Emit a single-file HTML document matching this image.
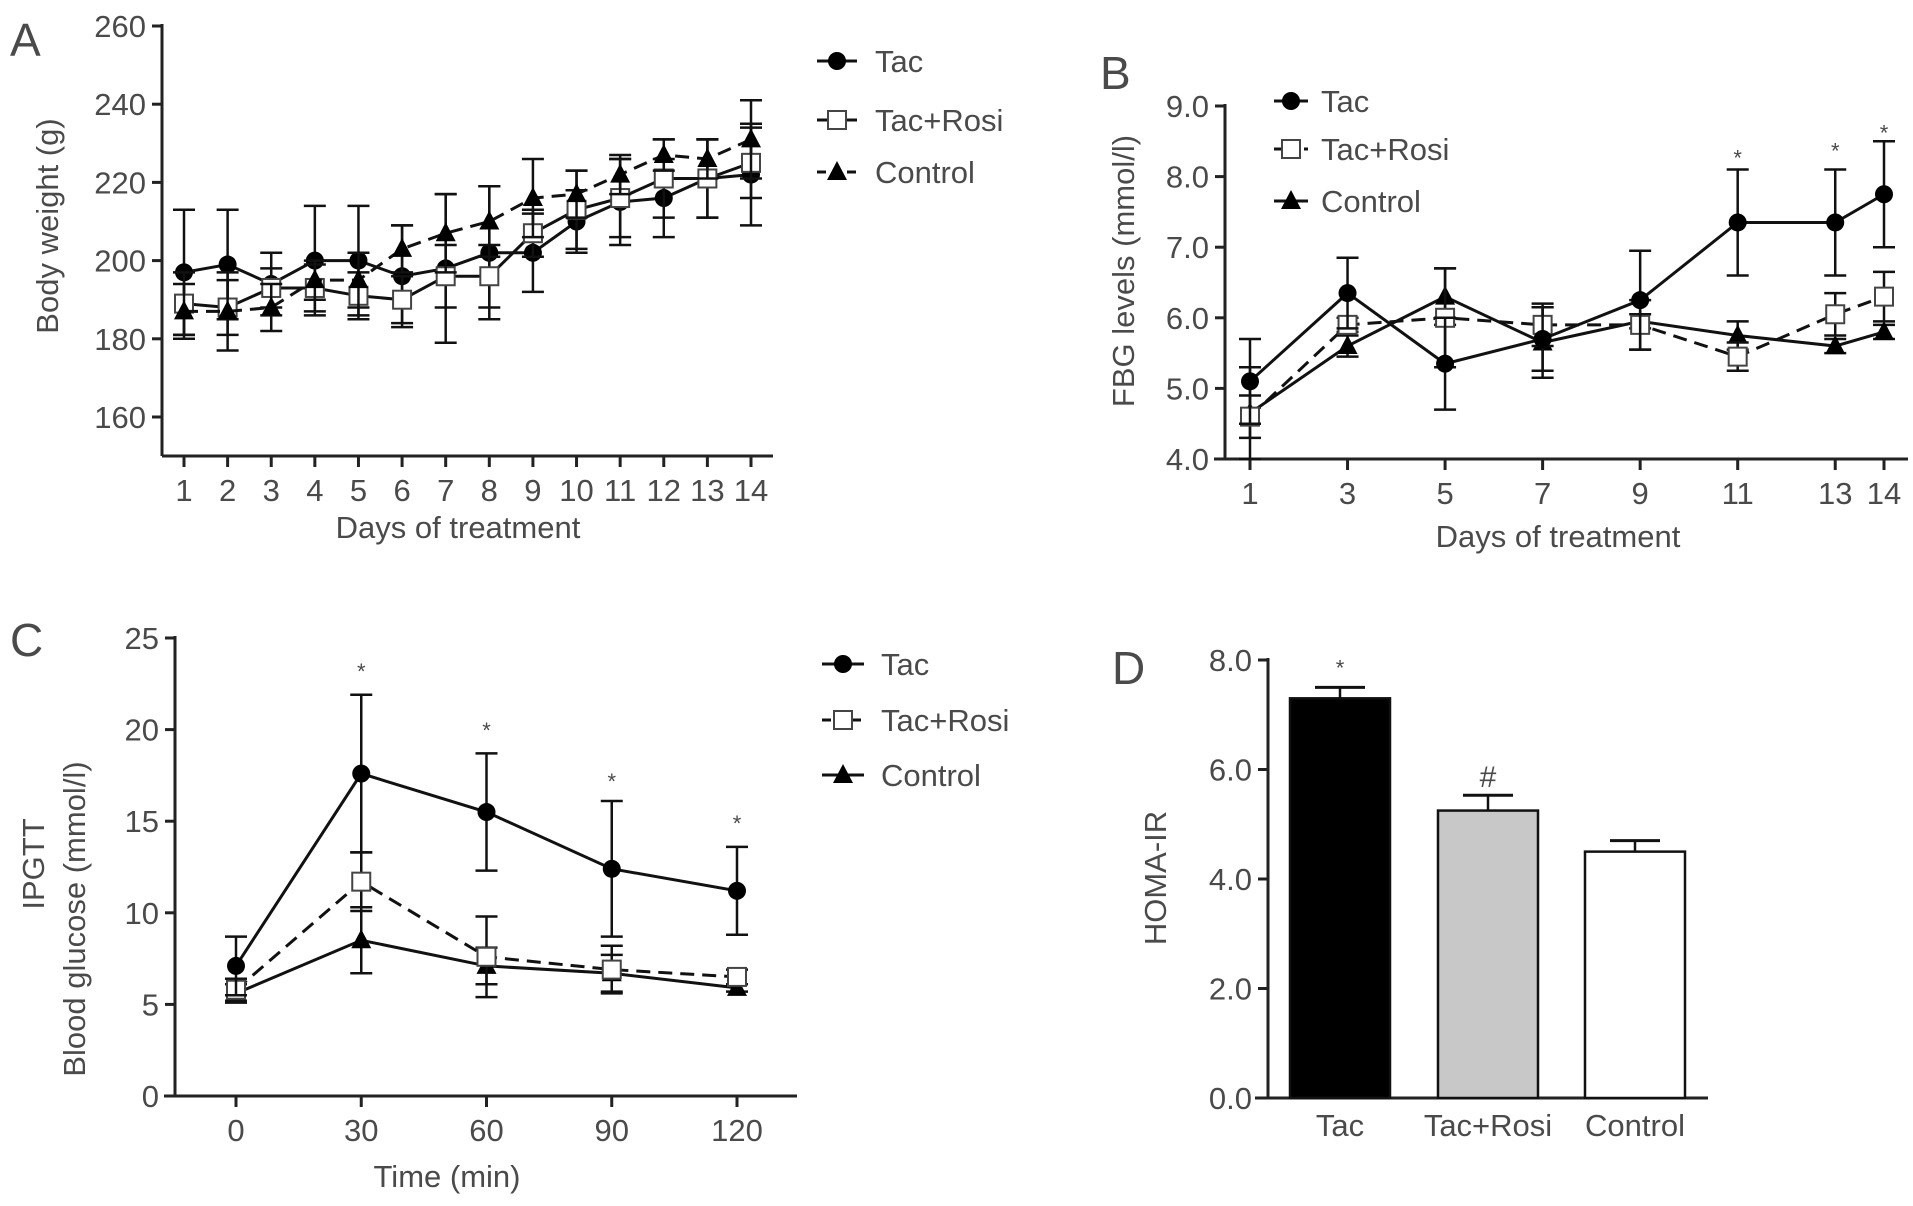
<!DOCTYPE html>
<html><head><meta charset="utf-8"><style>
html,body{margin:0;padding:0;background:#fff;}
svg{display:block;font-family:"Liberation Sans",sans-serif;}
text{fill:#4a4a4a;}
</style></head><body>
<svg id="fig" width="1913" height="1206" viewBox="0 0 1913 1206" xmlns="http://www.w3.org/2000/svg"></svg>
<script>
// ---------- Panel A data ----------
const daysA = [1,2,3,4,5,6,7,8,9,10,11,12,13,14];
const tacA = [197,199,194,200,200,196,198,202,202,210,215,216,221,222];
const tacAerr = [16,14,8,14,14,13,19,17,10,8,11,10,10,13];
const rosiA = [189,188,193,193,191,190,196,196,207,213,216,221,221,225];
const rosiAerr = [8,7,5,6,6,6,8,8,6,10,10,10,10,9];
const ctrlA = [187,187,188,195,195,203,207,210,216,217,222,227,226,231];
const ctrlAerr = [7,10,6,5,7,6,10,9,10,6,5,4,5,10];
const ticksA = [160,180,200,220,240,260];
// ---------- Panel B data ----------
const daysB = [1,3,5,7,9,11,13,14];
const tacB = [5.1,6.35,5.35,5.7,6.25,7.35,7.35,7.75];
const tacBerr = [0.6,0.5,0.65,0.45,0.7,0.75,0.75,0.75];
const rosiB = [4.6,5.9,6.0,5.9,5.9,5.45,6.05,6.3];
const rosiBerr = [0.3,0.1,0.7,0.3,0.35,0.2,0.3,0.35];
const ctrlB = [4.65,5.6,6.3,5.65,5.95,5.75,5.6,5.8];
const ctrlBerr = [0.65,0.15,0.4,0.5,0.1,0.2,0.1,0.1];
const starDaysB = [11,13,14];
const starValsB = [8.3,8.4,8.65];
const ticksB = [4.0,5.0,6.0,7.0,8.0,9.0];
// ---------- Panel C data ----------
const timesC = [0,30,60,90,120];
const tacC = [7.1,17.6,15.5,12.4,11.2];
const tacCerr = [1.6,4.3,3.2,3.7,2.4];
const rosiC = [5.8,11.7,7.6,6.9,6.5];
const rosiCerr = [0.6,1.6,2.2,1.3,0.4];
const ctrlC = [5.6,8.5,7.1,6.7,5.9];
const ctrlCerr = [0.5,1.8,1.0,1.0,0.2];
const starTimesC = [30,60,90,120];
const starValsC = [23.3,20.1,17.3,15.0];
const ticksC = [0,5,10,15,20,25];
// ---------- Panel D data ----------
const groupsD = ["Tac","Tac+Rosi","Control"];
const valsD = [7.3,5.25,4.5];
const errsD = [0.2,0.28,0.2];
const marksD = ["*","#",""];
const ticksD = [0.0,2.0,4.0,6.0,8.0];

const NS="http://www.w3.org/2000/svg";
const svg=document.getElementById('fig');
const FS=31;
function el(tag,attrs,parent){const e=document.createElementNS(NS,tag);for(const k in attrs)e.setAttribute(k,attrs[k]);(parent||svg).appendChild(e);return e;}
function txt(s,x,y,size,anchor,parent,rot){const t=el('text',{x:x,y:y,'font-size':size,'text-anchor':anchor||'start'},parent);if(rot)t.setAttribute('transform','rotate(-90 '+x+' '+y+')');t.textContent=s;return t;}
function lin(a,b){return v=>a[1]+(v-a[0])*(b[1]-a[1])/(b[0]-a[0]);}
function marker(type,x,y,g){
  if(type==='circle'){const m=el('circle',{cx:x,cy:y,r:9,fill:'#000'},g);return m;}
  if(type==='square'){return el('rect',{x:x-9,y:y-9,width:18,height:18,fill:'#fff',stroke:'#444','stroke-width':2},g);}
  return el('polygon',{points:(x)+','+(y-11)+' '+(x-10)+','+(y+8)+' '+(x+10)+','+(y+8),fill:'#000'},g);
}
function series(name,xs,ys,es,X,Y,type,dash,panel){
  const g=el('g',{});
  
  
  for(let i=0;i<xs.length;i++){
    const x=X(xs[i]),y1=Y(ys[i]+es[i]),y2=Y(ys[i]-es[i]);
    el('line',{x1:x,y1:y1,x2:x,y2:y2,stroke:'#111','stroke-width':2.5},g);
    el('line',{x1:x-11,y1:y1,x2:x+11,y2:y1,stroke:'#111','stroke-width':2.5},g);
    el('line',{x1:x-11,y1:y2,x2:x+11,y2:y2,stroke:'#111','stroke-width':2.5},g);
  }
  const pts=xs.map((v,i)=>X(v)+','+Y(ys[i])).join(' ');
  const pl=el('polyline',{points:pts,fill:'none',stroke:'#111','stroke-width':3},g);
  if(dash)pl.setAttribute('stroke-dasharray','14,8');
  xs.forEach((v,i)=>marker(type,X(v),Y(ys[i]),g));
}
function axes(panel,x0,xEnd,yAxisX,yTop,yBase,ticks,Y,fmt,xticks,X,xlabels){
  const g=el('g',{});
  
  
  el('line',{x1:yAxisX,y1:yTop-2,x2:yAxisX,y2:yBase,stroke:'#222','stroke-width':3},g);
  el('line',{x1:x0,y1:yBase,x2:xEnd,y2:yBase,stroke:'#222','stroke-width':3},g);
  ticks.forEach(t=>{const y=Y(t);el('line',{x1:yAxisX-10,y1:y,x2:yAxisX,y2:y,stroke:'#222','stroke-width':3},g);
    const tt=txt(fmt(t),yAxisX-16,y+11,FS,'end',g);});
  if(xticks){xticks.forEach((t,i)=>{const x=X(t);el('line',{x1:x,y1:yBase,x2:x,y2:yBase+11,stroke:'#222','stroke-width':3},g);
    const tt=txt(xlabels?xlabels[i]:String(t),x,yBase+45,FS,'middle',g);});}
}
function legend(panel,x1,x2,tx,rows,names,types,dashes){
  names.forEach((n,i)=>{const g=el('g',{});
    
    
    const y=rows[i];const l=el('line',{x1:x1,y1:y,x2:x2,y2:y,stroke:'#111','stroke-width':3},g);
    if(dashes[i])l.setAttribute('stroke-dasharray','9,6');
    marker(types[i],(x1+x2)/2,y,g);txt(n,tx,y+11,FS,'start',g);});
}
const names=["Tac","Tac+Rosi","Control"];
// ---------- Panel A ----------
{const X=lin([1,184],[14,751]);const Y=lin([160,417],[260,26]);
 axes('panel-a',162,773,162,26,456,ticksA,Y,String,daysA,X);
 series('tac',daysA,tacA,tacAerr,X,Y,'circle',false,'panel-a');
 series('tac-rosi',daysA,rosiA,rosiAerr,X,Y,'square',false,'panel-a');
 series('control',daysA,ctrlA,ctrlAerr,X,Y,'tri',true,'panel-a');
 legend('panel-a',817,857,875,[61,120,172],names,['circle','square','tri'],[false,false,true]);
 let t=txt('A',10,56,46,'start');
 t=txt('Body weight (g)',58,226,FS,'middle',null,true);
 t=txt('Days of treatment',458,538,FS,'middle');}
// ---------- Panel B ----------
{const X=lin([1,1250],[14,1884]);const Y=lin([4,459],[9,106]);
 axes('panel-b',1214,1908,1225,106,459,ticksB,Y,v=>v.toFixed(1),daysB,X);
 series('control',daysB,ctrlB,ctrlBerr,X,Y,'tri',false,'panel-b');
 series('tac-rosi',daysB,rosiB,rosiBerr,X,Y,'square',true,'panel-b');
 series('tac',daysB,tacB,tacBerr,X,Y,'circle',false,'panel-b');
 starDaysB.forEach((d,i)=>{const s=txt('*',X(d),Y(starValsB[i])+10,22,'middle');});
 legend('panel-b',1274,1308,1321,[101,149,201],names,['circle','square','tri'],[false,true,false]);
 let t=txt('B',1100,89,46,'start');
 t=txt('FBG levels (mmol/l)',1134,271,FS,'middle',null,true);
 t=txt('Days of treatment',1558,547,FS,'middle');}
// ---------- Panel C ----------
{const X=lin([0,236],[120,737]);const Y=lin([0,1096],[25,638]);
 axes('panel-c',164,797,175,638,1096,ticksC,Y,String,timesC,X);
 series('control',timesC,ctrlC,ctrlCerr,X,Y,'tri',false,'panel-c');
 series('tac-rosi',timesC,rosiC,rosiCerr,X,Y,'square',true,'panel-c');
 series('tac',timesC,tacC,tacCerr,X,Y,'circle',false,'panel-c');
 starTimesC.forEach((d,i)=>{const s=txt('*',X(d),Y(starValsC[i])+10,22,'middle');});
 legend('panel-c',822,864,881,[664,720,775],names,['circle','square','tri'],[false,true,false]);
 let t=txt('C',10,656,46,'start');
 t=txt('IPGTT',44,864,FS,'middle',null,true);
 t=txt('Blood glucose (mmol/l)',85,919,FS,'middle',null,true);
 t=txt('Time (min)',447,1187,FS,'middle');}
// ---------- Panel D ----------
{const Y=lin([0,1098],[8,660]);const centers=[1340,1488,1635];const bw=100;const fills=['#000','#c8c8c8','#fff'];
 axes('panel-d',1255,1708,1268,660,1098,ticksD,Y,v=>v.toFixed(1),null,null);
 groupsD.forEach((gname,i)=>{const g=el('g',{});
  
  
  const c=centers[i],top=Y(valsD[i]),et=Y(valsD[i]+errsD[i]);
  el('line',{x1:c,y1:top,x2:c,y2:et,stroke:'#111','stroke-width':2.5},g);
  el('line',{x1:c-25,y1:et,x2:c+25,y2:et,stroke:'#111','stroke-width':3},g);
  el('rect',{x:c-bw/2,y:top,width:bw,height:1098-top,fill:fills[i],stroke:'#111','stroke-width':2.5},g);
  const l=txt(gname,c,1136,FS,'middle',g);
  if(marksD[i]){const m=txt(marksD[i],c,et-(marksD[i]==='*'?12:8),marksD[i]==='*'?22:30,'middle',g);}
 });
 let t=txt('D',1112,684,46,'start');
 t=txt('HOMA-IR',1166,878,FS,'middle',null,true);}
</script>
</body></html>
